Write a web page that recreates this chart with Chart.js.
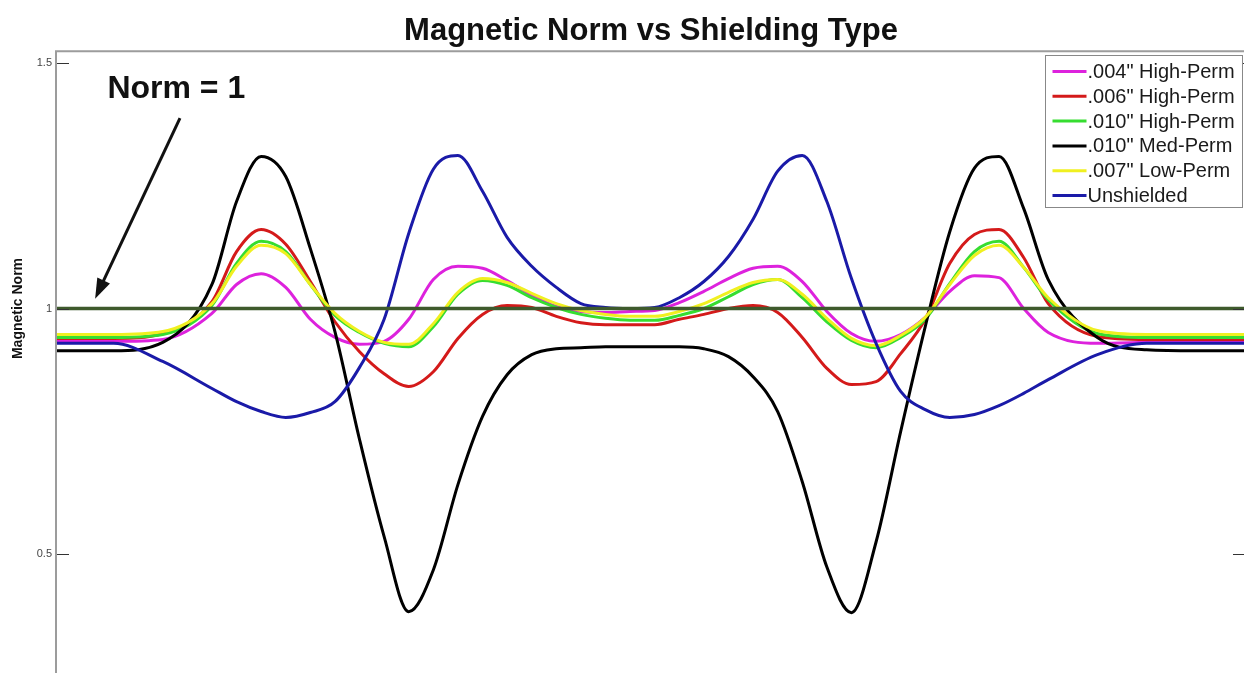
<!DOCTYPE html>
<html>
<head>
<meta charset="utf-8">
<script src="https://cdn.jsdelivr.net/npm/chart.js@4.4.1/dist/chart.umd.min.js"></script>
<style>
  html, body { margin:0; padding:0; background:#fff; overflow:hidden; }
</style>
</head>
<body>
<canvas id="chart" width="1250" height="673"></canvas>
<script>
// positions along the scan (arbitrary units, 0 = centre of the shield)
const xPos = [-46.6, -42, -38, -34, -32, -30, -28, -26, -24, -22, -20, -18, -16, -14, -12, -10, -8, -6, -4, -2,
  0, 2, 4, 6, 8, 10, 12, 14, 16, 18, 20, 22, 24, 26, 28, 30, 32, 34, 38, 42, 46, 50];

const hp004 = [0.935, 0.933, 0.937, 0.990, 1.049, 1.071, 1.043, 0.978, 0.941, 0.927, 0.933, 0.978, 1.059, 1.086, 1.082, 1.057, 1.027, 1.004, 0.994, 0.992,
  0.994, 0.996, 1.012, 1.035, 1.061, 1.082, 1.086, 1.055, 0.994, 0.949, 0.933, 0.947, 0.982, 1.035, 1.067, 1.063, 1.000, 0.951, 0.929, 0.931, 0.933, 0.933];
const hp006 = [0.939, 0.939, 0.949, 1.014, 1.116, 1.161, 1.131, 1.055, 0.973, 0.912, 0.867, 0.841, 0.871, 0.939, 0.988, 1.006, 1.002, 0.984, 0.971, 0.967,
  0.967, 0.967, 0.978, 0.988, 1.000, 1.006, 0.992, 0.941, 0.878, 0.845, 0.851, 0.908, 0.978, 1.092, 1.151, 1.161, 1.104, 1.010, 0.943, 0.937, 0.937, 0.937];
const hp010 = [0.941, 0.941, 0.947, 1.006, 1.092, 1.137, 1.116, 1.049, 0.986, 0.951, 0.929, 0.922, 0.963, 1.029, 1.057, 1.047, 1.022, 1.002, 0.988, 0.980,
  0.976, 0.976, 0.986, 1.000, 1.024, 1.049, 1.059, 1.022, 0.973, 0.935, 0.920, 0.941, 0.978, 1.051, 1.116, 1.137, 1.084, 1.018, 0.949, 0.941, 0.941, 0.941];
const mp010 = [0.914, 0.914, 0.931, 1.049, 1.218, 1.310, 1.269, 1.122, 0.953, 0.733, 0.535, 0.382, 0.467, 0.641, 0.780, 0.865, 0.906, 0.918, 0.920, 0.922,
  0.922, 0.922, 0.922, 0.918, 0.902, 0.861, 0.790, 0.647, 0.473, 0.380, 0.524, 0.749, 0.963, 1.157, 1.286, 1.310, 1.204, 1.059, 0.941, 0.916, 0.914, 0.914];
const lp007 = [0.947, 0.947, 0.953, 1.010, 1.086, 1.129, 1.112, 1.049, 0.990, 0.953, 0.931, 0.927, 0.969, 1.033, 1.061, 1.053, 1.031, 1.010, 0.996, 0.988,
  0.984, 0.984, 0.994, 1.010, 1.033, 1.053, 1.059, 1.029, 0.980, 0.939, 0.924, 0.945, 0.982, 1.049, 1.108, 1.129, 1.084, 1.022, 0.955, 0.947, 0.947, 0.947];
const unshielded = [0.929, 0.929, 0.892, 0.837, 0.810, 0.790, 0.778, 0.788, 0.810, 0.880, 0.978, 1.153, 1.284, 1.312, 1.239, 1.145, 1.086, 1.043, 1.010, 1.002,
  1.000, 1.002, 1.022, 1.055, 1.106, 1.182, 1.280, 1.312, 1.218, 1.061, 0.929, 0.831, 0.794, 0.778, 0.784, 0.802, 0.827, 0.855, 0.906, 0.929, 0.929, 0.929];

const normX = [-46.6, 50];
const normY = [1, 1];

const seriesNames = ['.004" High-Perm', '.006" High-Perm', '.010" High-Perm', '.010" Med-Perm', '.007" Low-Perm', 'Unshielded'];
const seriesValues = [hp004, hp006, hp010, mp010, lp007, unshielded];
const seriesColors = ['#dd22dd', '#d41a1a', '#36dd30', '#000000', '#f0f020', '#1a1aa8'];
const drawOrder = [6, 5, 4, 3, 2, 1];   // later MATLAB plots sit on top
const yTicks = [0.5, 1, 1.5];

const FONT = '"Liberation Sans", Arial, Helvetica, sans-serif';

const datasets = seriesNames.map((name, i) => ({
  label: name,
  data: xPos.map((x, j) => ({ x: x, y: seriesValues[i][j] })),
  borderColor: seriesColors[i],
  borderWidth: 3,
  order: drawOrder[i]
}));
datasets.push({
  label: 'Norm = 1',
  data: normX.map((x, j) => ({ x: x, y: normY[j] })),
  borderColor: '#3e5a2c',
  borderWidth: 3.5,
  order: 0
});

// frame, inside ticks, axis title, arrow note and boxed legend
const overlay = {
  id: 'overlay',
  afterDatasetsDraw(chart) {
    const { ctx, chartArea: a, scales: { x, y } } = chart;
    ctx.save();

    ctx.strokeStyle = '#9c9c9c';
    ctx.lineWidth = 2;
    ctx.beginPath();
    ctx.moveTo(a.left - 1, a.bottom);
    ctx.lineTo(a.left - 1, a.top);
    ctx.lineTo(a.right, a.top);
    ctx.stroke();

    ctx.strokeStyle = '#333';
    ctx.lineWidth = 1;
    ctx.beginPath();
    yTicks.forEach(v => {
      const py = Math.round(y.getPixelForValue(v)) + 0.5;
      ctx.moveTo(a.left, py); ctx.lineTo(a.left + 12, py);
      ctx.moveTo(a.right - 12, py); ctx.lineTo(a.right, py);
    });
    ctx.stroke();

    // y axis title, centred on the visible part of the axis
    ctx.save();
    ctx.translate(18, y.getPixelForValue(1.0));
    ctx.rotate(-Math.PI / 2);
    ctx.fillStyle = '#111';
    ctx.font = 'bold 14px ' + FONT;
    ctx.textAlign = 'center';
    ctx.textBaseline = 'middle';
    ctx.fillText('Magnetic Norm', 0, 0);
    ctx.restore();

    // "Norm = 1" arrow
    ctx.fillStyle = '#111';
    ctx.font = 'bold 32px ' + FONT;
    ctx.textAlign = 'center';
    ctx.textBaseline = 'middle';
    ctx.fillText('Norm = 1', x.getPixelForValue(-36.9), y.getPixelForValue(1.447));

    const x0 = x.getPixelForValue(-36.6), y0 = y.getPixelForValue(1.388);
    const x1 = x.getPixelForValue(-43.5), y1 = y.getPixelForValue(1.020);
    const ang = Math.atan2(y1 - y0, x1 - x0);
    const hl = 20, hw = 7;
    ctx.strokeStyle = '#111';
    ctx.lineWidth = 3;
    ctx.beginPath();
    ctx.moveTo(x0, y0);
    ctx.lineTo(x1 - Math.cos(ang) * hl * 0.8, y1 - Math.sin(ang) * hl * 0.8);
    ctx.stroke();
    ctx.beginPath();
    ctx.moveTo(x1, y1);
    ctx.lineTo(x1 - Math.cos(ang) * hl + Math.sin(ang) * hw, y1 - Math.sin(ang) * hl - Math.cos(ang) * hw);
    ctx.lineTo(x1 - Math.cos(ang) * hl - Math.sin(ang) * hw, y1 - Math.sin(ang) * hl + Math.cos(ang) * hw);
    ctx.closePath();
    ctx.fill();

    // legend
    const bw = 197, bh = 152;
    const bx = Math.round(a.right - bw - 3) + 0.5, by = Math.round(a.top + 4) + 0.5;
    ctx.fillStyle = '#fff';
    ctx.fillRect(bx, by, bw, bh);
    ctx.strokeStyle = '#888';
    ctx.lineWidth = 1;
    ctx.strokeRect(bx, by, bw, bh);
    ctx.font = '20px ' + FONT;
    ctx.textAlign = 'left';
    seriesNames.forEach((name, i) => {
      const ry = by + 16 + i * 24.8;
      ctx.strokeStyle = seriesColors[i];
      ctx.lineWidth = 3;
      ctx.beginPath();
      ctx.moveTo(bx + 7, ry); ctx.lineTo(bx + 41, ry);
      ctx.stroke();
      ctx.fillStyle = '#1a1a1a';
      ctx.fillText(name, bx + 42, ry + 1);
    });

    ctx.restore();
  }
};

new Chart(document.getElementById('chart'), {
  type: 'line',
  data: { datasets: datasets },
  options: {
    responsive: false,
    animation: false,
    devicePixelRatio: 1,
    layout: { padding: { left: 0, right: 5, top: 0, bottom: 0 } },
    elements: {
      point: { radius: 0 },
      line: { cubicInterpolationMode: 'monotone', fill: false }
    },
    plugins: {
      legend: { display: false },
      tooltip: { enabled: false },
      title: {
        display: true,
        text: 'Magnetic Norm vs Shielding Type',
        fullSize: false,
        color: '#111',
        font: { family: FONT, size: 31, weight: 'bold', lineHeight: 1.2 },
        padding: { top: 13, bottom: 1 }
      }
    },
    scales: {
      x: { type: 'linear', display: false, min: -46.6, max: 50 },
      y: {
        min: 0.257,
        max: 1.5245,
        afterBuildTicks: s => { s.ticks = yTicks.map(v => ({ value: v })); },
        afterFit: s => { s.width = 57; s.paddingTop = 0; s.paddingBottom = 0; },
        grid: { display: false, drawTicks: false, tickLength: 0 },
        border: { display: false },
        ticks: {
          color: '#444',
          padding: 5,
          font: { family: FONT, size: 11 },
          callback: v => String(v)
        }
      }
    }
  },
  plugins: [overlay]
});
</script>
</body>
</html>
